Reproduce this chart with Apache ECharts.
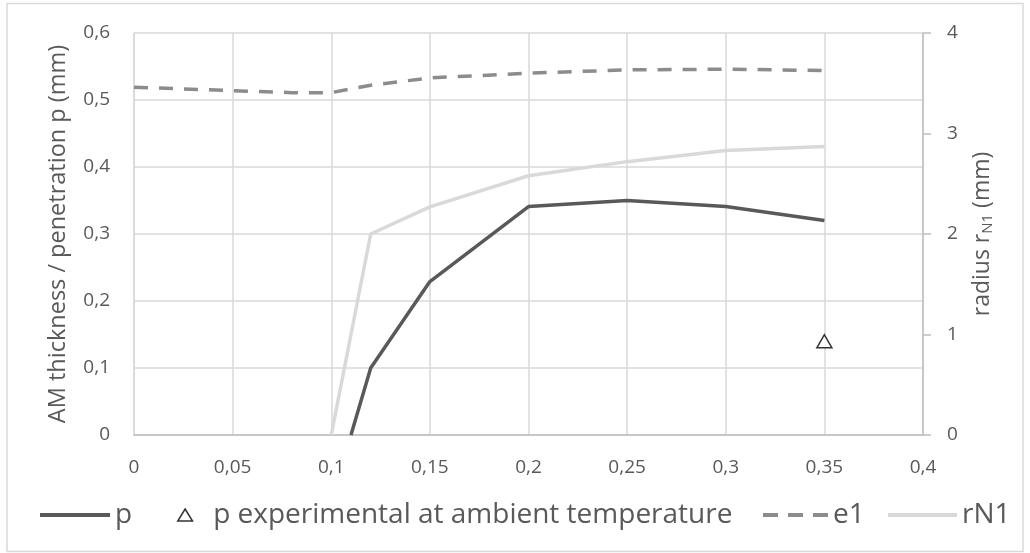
<!DOCTYPE html>
<html>
<head>
<meta charset="utf-8">
<script src="https://cdn.jsdelivr.net/npm/echarts@6/dist/echarts.min.js"></script>
<style>
html,body{margin:0;padding:0;background:#fff;}
#chart{width:1030px;height:553px;}
</style>
</head>
<body>
<div id="chart"></div>
<script>
// ---- data ----
var pX = [0.11, 0.12, 0.15, 0.2, 0.25, 0.3, 0.35];
var pValues = [0, 0.10, 0.229, 0.341, 0.350, 0.341, 0.320];
var expX = [0.35];
var expValues = [0.14];
var e1X = [0, 0.05, 0.08, 0.1, 0.12, 0.15, 0.2, 0.25, 0.3, 0.35];
var e1Values = [0.519, 0.514, 0.511, 0.511, 0.522, 0.533, 0.540, 0.545, 0.546, 0.544];
var rX = [0.1, 0.12, 0.15, 0.2, 0.25, 0.3, 0.35];
var rValues = [0, 2.0, 2.27, 2.58, 2.72, 2.83, 2.87];
var seriesNames = ['p', 'p experimental at ambient temperature', 'e1', 'rN1'];
var leftAxisTitle = 'AM thickness / penetration p (mm)';

function pairs(xs, ys) { return xs.map(function (x, i) { return [x, ys[i]]; }); }
function comma(v) { return String(+v.toFixed(2)).replace('.', ','); }

var FONT = 'Open Sans';
var TXT = '#595959';
var GRID = '#d9d9d9';
var LEG_FS = 28;

function legendOf(name, left, width, height, icon, itemStyle) {
  return {
    left: left, top: 501, orient: 'horizontal',
    itemWidth: width, itemHeight: height, itemGap: 0, padding: 0,
    selectedMode: false, symbolKeepAspect: true,
    textStyle: { color: TXT, fontSize: LEG_FS, fontFamily: FONT },
    data: [{ name: name, icon: icon, itemStyle: itemStyle }]
  };
}

var chart = echarts.init(document.getElementById('chart'));
chart.setOption({
  animation: false,
  textStyle: { fontFamily: FONT },
  graphic: [{
    type: 'rect', shape: { x: 7, y: 3.5, width: 1016, height: 548 },
    style: { fill: 'none', stroke: GRID, lineWidth: 1.5 }, silent: true, z: -10
  }],
  grid: { left: 134, right: 107, top: 33, bottom: 118, containLabel: false },
  legend: [
    legendOf(seriesNames[0], 40, 70, 14, 'path://M0,0h70v4h-70z', { color: '#595959', borderWidth: 0 }),
    legendOf(seriesNames[1], 177, 46, 12, 'path://M8,0L16,13L0,13Z', { color: '#ffffff', borderColor: '#000000', borderWidth: 1.5 }),
    legendOf(seriesNames[2], 763, 65, 14, 'path://M0,0h15v4h-15z M25,0h15v4h-15z M50,0h15v4h-15z', { color: '#8c8c8c', borderWidth: 0 }),
    legendOf(seriesNames[3], 888, 69, 14, 'path://M0,0h69v4h-69z', { color: '#d9d9d9', borderWidth: 0 })
  ],
  xAxis: {
    type: 'value', min: 0, max: 0.4, interval: 0.05,
    axisLine: { show: true, lineStyle: { color: '#bfbfbf', width: 1.5 } },
    axisTick: { show: false },
    splitLine: { show: true, lineStyle: { color: GRID, width: 1.5 } },
    axisLabel: { color: TXT, fontSize: 19, margin: 23, formatter: comma }
  },
  yAxis: [{
    type: 'value', min: 0, max: 0.6, interval: 0.1,
    name: leftAxisTitle, nameLocation: 'middle', nameGap: 64, nameRotate: 90, nameMoveOverlap: false,
    nameTextStyle: { color: TXT, fontSize: 23.5 },
    axisLine: { show: true, lineStyle: { color: GRID, width: 1.5 } },
    axisTick: { show: false },
    splitLine: { show: true, lineStyle: { color: GRID, width: 1.5 } },
    axisLabel: { color: TXT, fontSize: 19, margin: 24, formatter: comma }
  }, {
    type: 'value', min: 0, max: 4, interval: 1, position: 'right',
    name: '{a|radius r}{s|N1}{a| (mm)}', nameLocation: 'middle', nameGap: 47, nameRotate: 90, nameMoveOverlap: false,
    nameTextStyle: {
      color: TXT, fontSize: 23,
      rich: {
        a: { color: TXT, fontSize: 23, fontFamily: FONT },
        s: { color: TXT, fontSize: 15, fontFamily: FONT, verticalAlign: 'bottom', padding: [10, 0, 0, 0] }
      }
    },
    axisLine: { show: true, lineStyle: { color: '#bfbfbf', width: 1.5 } },
    axisTick: { show: true, inside: false, length: 8, lineStyle: { color: '#bfbfbf', width: 1.5 } },
    splitLine: { show: false },
    axisLabel: { color: TXT, fontSize: 19, margin: 24 }
  }],
  series: [{
    name: seriesNames[3], type: 'line', yAxisIndex: 1, data: pairs(rX, rValues),
    symbol: 'none', lineStyle: { color: '#d9d9d9', width: 3.5 }, itemStyle: { color: '#d9d9d9' }, z: 2
  }, {
    name: seriesNames[2], type: 'line', yAxisIndex: 0, data: pairs(e1X, e1Values),
    symbol: 'none', lineStyle: { color: '#8c8c8c', width: 3.5, type: [14, 11] }, itemStyle: { color: '#8c8c8c' }, z: 3
  }, {
    name: seriesNames[0], type: 'line', yAxisIndex: 0, data: pairs(pX, pValues),
    symbol: 'none', lineStyle: { color: '#595959', width: 3.5 }, itemStyle: { color: '#595959' }, z: 4
  }, {
    name: seriesNames[1], type: 'scatter', yAxisIndex: 0, data: pairs(expX, expValues),
    symbol: 'triangle', symbolSize: [15, 13],
    itemStyle: { color: '#ffffff', borderColor: '#000000', borderWidth: 1.5 }, z: 5
  }]
});
</script>
</body>
</html>
